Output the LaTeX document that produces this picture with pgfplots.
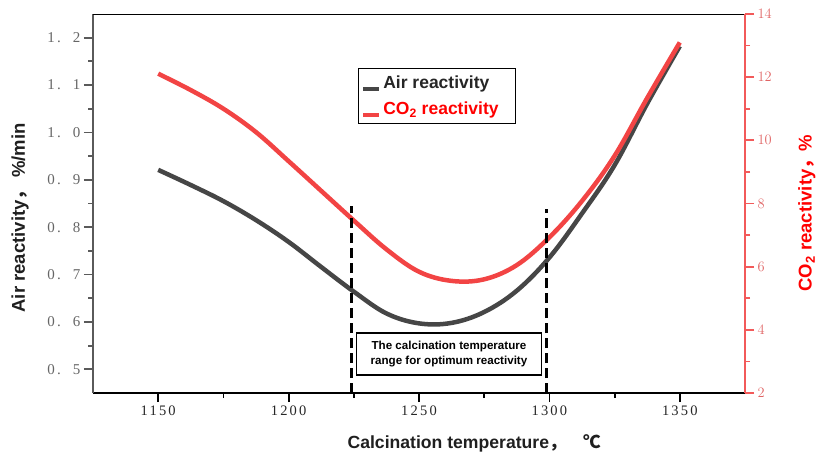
\documentclass[border=0pt]{standalone}
\usepackage{pgfplots}
\pgfplotsset{compat=1.18}
\usepackage{fontspec}
\setmainfont{Liberation Sans}
\newfontfamily\tickfont[LetterSpace=15]{Liberation Serif}
\newfontfamily\cjk{Noto Sans CJK SC}
\definecolor{airgray}{HTML}{464646}
\definecolor{co2red}{HTML}{F24444}
\definecolor{axred}{HTML}{F25A5A}
\definecolor{lblred}{HTML}{E06464}
\definecolor{axgray}{HTML}{5A5A5A}

\begin{document}
\begin{tikzpicture}
\useasboundingbox (0pt,0pt) rectangle (818pt,459pt);

% left axis: air reactivity
\begin{axis}[
  at={(93pt,66pt)}, anchor=south west,
  scale only axis, width=652pt, height=379pt,
  xmin=1125, xmax=1375, ymin=0.45, ymax=1.25,
  axis x line*=bottom, axis y line*=left,
  axis line style={-},
  x axis line style={black, line width=1.8pt},
  y axis line style={axgray, line width=2pt},
  xtick={1150,1200,1250,1300,1350},
  xticklabels={1150,1200,1250,1300,1350},
  minor x tick num=1,
  ytick={0.5,0.6,0.7,0.8,0.9,1.0,1.1,1.2},
  yticklabels={0.\ \ 5,0.\ \ 6,0.\ \ 7,0.\ \ 8,0.\ \ 9,1.\ \ 0,1.\ \ 1,1.\ \ 2},
  minor y tick num=1,
  tick align=outside,
  major tick length=9pt, minor tick length=5pt,
  x tick style={black, line width=1.8pt},
  y tick style={axgray, line width=1.8pt},
  x tick label style={font=\tickfont\fontsize{14.5}{14.5}\selectfont, text=black!85},
  y tick label style={font=\tickfont\fontsize{15}{15}\selectfont, text=black!60},
  xlabel={Calcination temperature{\cjk\bfseries ，}\hspace{17pt}{\cjk\bfseries ℃}},
  xlabel style={at={(rel axis cs:0.585,-0.132)}, anchor=center,
    font=\bfseries\fontsize{17.6}{17.6}\selectfont, text=black!88},
  ylabel={Air reactivity{\cjk\bfseries ，}\hspace{4pt}\%/min},
  ylabel style={at={(rel axis cs:-0.112,0.462)}, anchor=center,
    font=\bfseries\fontsize{18.5}{18.5}\selectfont, text=black!88},
]
\addplot[airgray, line width=4.5pt, smooth, tension=0.6] coordinates {
  (1150,0.921) (1162.5,0.889) (1175,0.855) (1187.5,0.815) (1200,0.769)
  (1212.5,0.716) (1225,0.664) (1237.5,0.618) (1250,0.597) (1262.5,0.598)
  (1275,0.621) (1287.5,0.666) (1300,0.736) (1312.5,0.829) (1325,0.931)
  (1337.5,1.061) (1350,1.182)
};
\draw[black, line width=1.5pt] (rel axis cs:0,1) -- (rel axis cs:1,1);
\end{axis}

% right axis: CO2 reactivity
\begin{axis}[
  at={(93pt,66pt)}, anchor=south west,
  scale only axis, width=652pt, height=379pt,
  xmin=1125, xmax=1375, ymin=2, ymax=14,
  axis x line=none, axis y line*=right,
  axis line style={-},
  y axis line style={axred, line width=2.5pt},
  ytick={2,4,6,8,10,12,14},
  minor y tick num=1,
  tick align=outside,
  major tick length=9pt, minor tick length=5pt,
  y tick style={axred, line width=1.8pt},
  y tick label style={font=\tickfont\fontsize{15}{15}\selectfont, text=lblred},
  ylabel={CO\textsubscript{2} reactivity{\cjk\bfseries ，}\%},
  ylabel style={at={(rel axis cs:1.095,0.475)}, anchor=center,
    font=\bfseries\fontsize{18.5}{18.5}\selectfont, text=red},
  legend style={at={(rel axis cs:0.406,0.857)}, anchor=north west,
    draw=black, line width=1.2pt, fill=white,
    font=\bfseries\fontsize{17.5}{19}\selectfont, row sep=8pt,
    inner xsep=3pt, inner ysep=5pt},
  legend cell align=left,
  legend image code/.code={\draw[#1, line width=4pt] (0pt,-6pt) -- (16pt,-6pt);},
]
\addlegendimage{airgray}
\addlegendentry{\textcolor{black!85}{Air reactivity}}
\addplot[co2red, line width=4.5pt, smooth, tension=0.6] coordinates {
  (1150,12.11) (1162.5,11.59) (1175,11.00) (1187.5,10.26) (1200,9.34)
  (1212.5,8.40) (1225,7.46) (1237.5,6.55) (1250,5.84) (1262.5,5.55)
  (1275,5.60) (1287.5,6.05) (1300,6.93) (1312.5,8.08) (1325,9.51)
  (1337.5,11.34) (1350,13.10)
};
\addlegendentry{\textcolor{red}{CO\textsubscript{2} reactivity}\rule{12pt}{0pt}}
\draw[black, line width=3pt, dash pattern=on 10pt off 5pt]
  (axis cs:1224,2) -- (axis cs:1224,7.92);
\draw[black, line width=3pt, dash pattern=on 10pt off 5pt]
  (axis cs:1299,2) -- (axis cs:1299,7.83);
\node[draw, line width=1.4pt, fill=white, minimum width=185pt,
  minimum height=42pt, align=center, inner sep=0pt,
  font=\bfseries\fontsize{11.6}{14.5}\selectfont]
  at (axis cs:1261.5,3.23) {The calcination temperature\\range for optimum reactivity};
\end{axis}
\end{tikzpicture}
\end{document}
